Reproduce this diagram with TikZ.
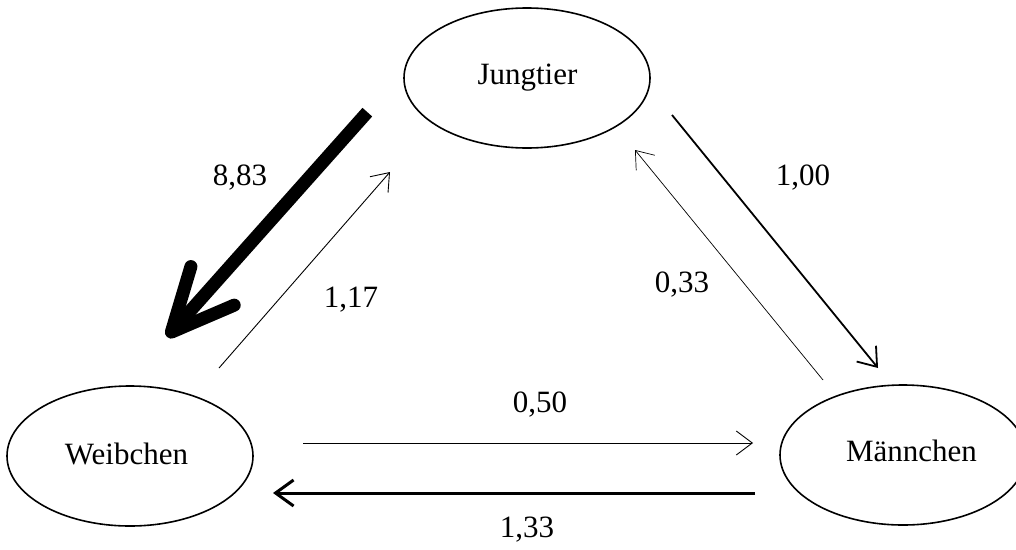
\documentclass[tikz,border=0pt]{standalone}
\usepackage{fontspec}
\setmainfont{Liberation Serif}
\usetikzlibrary{shapes.geometric,arrows.meta}
\begin{document}
\begin{tikzpicture}[x=1pt,y=-1pt,
  every node/.style={font=\fontsize{31}{37}\selectfont},
  stage/.style={draw, ellipse, line width=1.6pt, minimum width=246pt, minimum height=140pt, inner sep=0pt},
  lbl/.style={anchor=base, inner sep=0pt},
  thinarrow/.style={line width=0.9pt, -{Straight Barb[length=16pt,width=24pt]}},
  hairarrow/.style={line width=0.7pt, -{Straight Barb[length=16pt,width=24pt]}},
  midarrow/.style={line width=1.8pt, -{Straight Barb[length=17pt,width=25pt]}},
  boldarrow/.style={line width=3pt, -{Straight Barb[length=18pt,width=26pt]}},
  hugearrow/.style={line width=13pt, line cap=rect, -{Straight Barb[length=62pt,width=58pt,round]}}
]
\useasboundingbox (0,0) rectangle (1016,549);
% stages
\node[stage] (J) at (527,78) {};
\node[stage] (W) at (130,456) {};
\node[stage] (M) at (903,455) {};
\node[lbl] (Jt) at (527.5,84) {Jungtier};
\node[lbl] (Wt) at (126.5,464) {Weibchen};
\node[lbl] (Mt) at (911.5,461) {Männchen};
% connector end points
\coordinate (ja) at (363,117); \coordinate (wa) at (167,337);
\coordinate (wb) at (219,368); \coordinate (jb) at (390,172);
\coordinate (jc) at (672,115); \coordinate (mc) at (878,368);
\coordinate (md) at (823,380); \coordinate (jd) at (635,150);
\coordinate (we) at (303,443); \coordinate (me) at (753,443);
\coordinate (mf) at (755,493); \coordinate (wf) at (273,493);
% connectors
\draw[hugearrow] (ja) -- (wa);
\draw[thinarrow] (wb) -- (jb);
\draw[midarrow] (jc) -- (mc);
\draw[hairarrow] (md) -- (jd);
\draw[thinarrow] (we) -- (me);
\draw[boldarrow] (mf) -- (wf);
% labels
\node[lbl] (l883) at (240,185) {8,83};
\node[lbl] (l117) at (351,307) {1,17};
\node[lbl] (l100) at (803,185) {1,00};
\node[lbl] (l033) at (682,292) {0,33};
\node[lbl] (l050) at (540,412) {0,50};
\node[lbl] (l133) at (527,537) {1,33};
\end{tikzpicture}
\end{document}
